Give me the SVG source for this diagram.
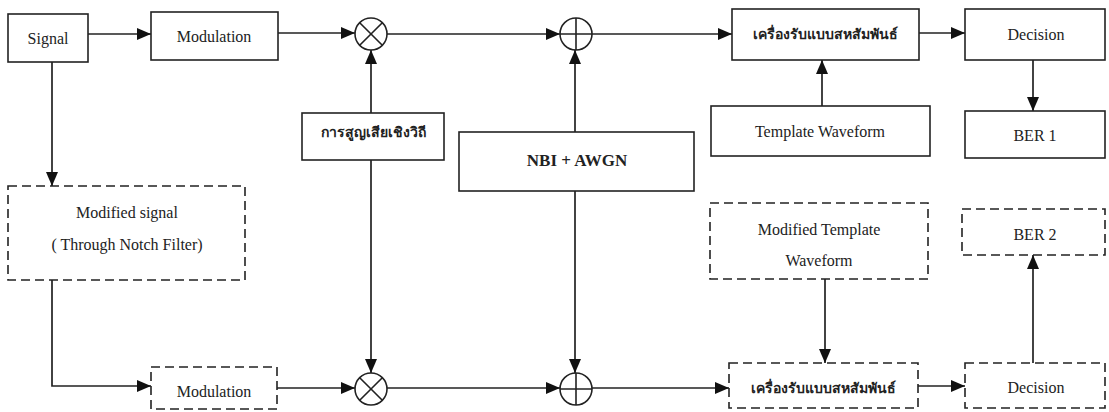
<svg xmlns="http://www.w3.org/2000/svg" width="1109" height="412" viewBox="0 0 1109 412">
<defs>
<marker id="ah" markerUnits="userSpaceOnUse" markerWidth="15" markerHeight="13" refX="14" refY="6" orient="auto">
<path d="M0,0 L14,6 L0,12 Z" fill="#111"/>
</marker>
<style>
.box{fill:#fff;stroke:#222;stroke-width:1.6}
.dbox{fill:#fff;stroke:#222;stroke-width:1.6;stroke-dasharray:9 5}
.t{font-family:"Liberation Serif","Noto Sans","DejaVu Sans",serif;font-size:16px;fill:#222;text-anchor:middle}
.th{font-family:"Liberation Serif","Noto Sans","DejaVu Sans",sans-serif;font-size:14px;font-weight:bold;fill:#222;text-anchor:middle}
.b{font-weight:bold;font-size:17px}
.c{fill:#fff;stroke:#222;stroke-width:1.6}
.cl{stroke:#222;stroke-width:1.6}
.e{fill:none;stroke:#222;stroke-width:1.7;marker-end:url(#ah)}
</style>
</defs>
<rect width="1109" height="412" fill="#fff"/>

<g id="connectors">
<path class="e" d="M88,34 H151"/>
<path class="e" d="M278,33 H355"/>
<path class="e" d="M387,34 H560"/>
<path class="e" d="M592,34 H732"/>
<path class="e" d="M919,33 H965"/>
<path class="e" d="M1033,60 V111"/>
<path class="e" d="M822,106 V60"/>
<path class="e" d="M371,113 V50"/>
<path class="e" d="M575,132 V50"/>
<path class="e" d="M52,62 V186"/>
<path class="e" d="M52,280 V386 H151"/>
<path class="e" d="M277,388 H355"/>
<path class="e" d="M371,160 V373"/>
<path class="e" d="M387,388 H560"/>
<path class="e" d="M575,191 V373"/>
<path class="e" d="M592,388 H729"/>
<path class="e" d="M825,279 V363"/>
<path class="e" d="M918,386 H965"/>
<path class="e" d="M1033,363 V255"/>
</g>

<g id="signal"><rect class="box" x="8" y="14" width="80" height="48"/><text class="t" x="48" y="44">Signal</text></g>
<g id="modulation"><rect class="box" x="151" y="12" width="127" height="48"/><text class="t" x="214" y="42">Modulation</text></g>
<g id="mult1"><circle class="c" cx="371" cy="34" r="16"/><path class="cl" d="M359.7,22.7 L382.3,45.3 M382.3,22.7 L359.7,45.3"/></g>
<g id="adder1"><circle class="c" cx="576" cy="34" r="16"/><path class="cl" d="M576,18 V50 M560,34 H592"/></g>
<g id="receiver1"><rect class="box" x="732" y="9" width="187" height="51"/><text class="th" x="825" y="39">เครื่องรับแบบสหสัมพันธ์</text></g>
<g id="decision1"><rect class="box" x="965" y="9" width="140" height="51"/><text class="t" x="1036" y="40">Decision</text></g>
<g id="template"><rect class="box" x="711" y="106" width="219" height="50"/><text class="t" x="820" y="137">Template Waveform</text></g>
<g id="ber1"><rect class="box" x="965" y="111" width="140" height="47"/><text class="t" x="1035" y="141">BER 1</text></g>
<g id="pathloss"><rect class="box" x="302" y="113" width="142" height="47"/><text class="th" x="373" y="137">การสูญเสียเชิงวิถี</text></g>
<g id="nbi"><rect class="box" x="459" y="132" width="235" height="59"/><text class="t b" x="577" y="166">NBI + AWGN</text></g>

<g id="modsignal"><rect class="dbox" x="8" y="186" width="237" height="94"/><text class="t" x="127" y="218">Modified signal</text><text class="t" x="127" y="250">( Through Notch Filter)</text></g>
<g id="modtemplate"><rect class="dbox" x="710" y="203" width="218" height="76"/><text class="t" x="819" y="235">Modified Template</text><text class="t" x="819" y="266">Waveform</text></g>
<g id="ber2"><rect class="dbox" x="962" y="209" width="143" height="46"/><text class="t" x="1035" y="240">BER 2</text></g>
<g id="modulation2"><rect class="dbox" x="151" y="367" width="126" height="42"/><text class="t" x="214" y="397">Modulation</text></g>
<g id="mult2"><circle class="c" cx="371" cy="389" r="16"/><path class="cl" d="M359.7,377.7 L382.3,400.3 M382.3,377.7 L359.7,400.3"/></g>
<g id="adder2"><circle class="c" cx="576" cy="389" r="16"/><path class="cl" d="M576,373 V405 M560,389 H592"/></g>
<g id="receiver2"><rect class="dbox" x="729" y="363" width="189" height="45"/><text class="th" x="823" y="393">เครื่องรับแบบสหสัมพันธ์</text></g>
<g id="decision2"><rect class="dbox" x="965" y="363" width="140" height="45"/><text class="t" x="1036" y="393">Decision</text></g>
</svg>
